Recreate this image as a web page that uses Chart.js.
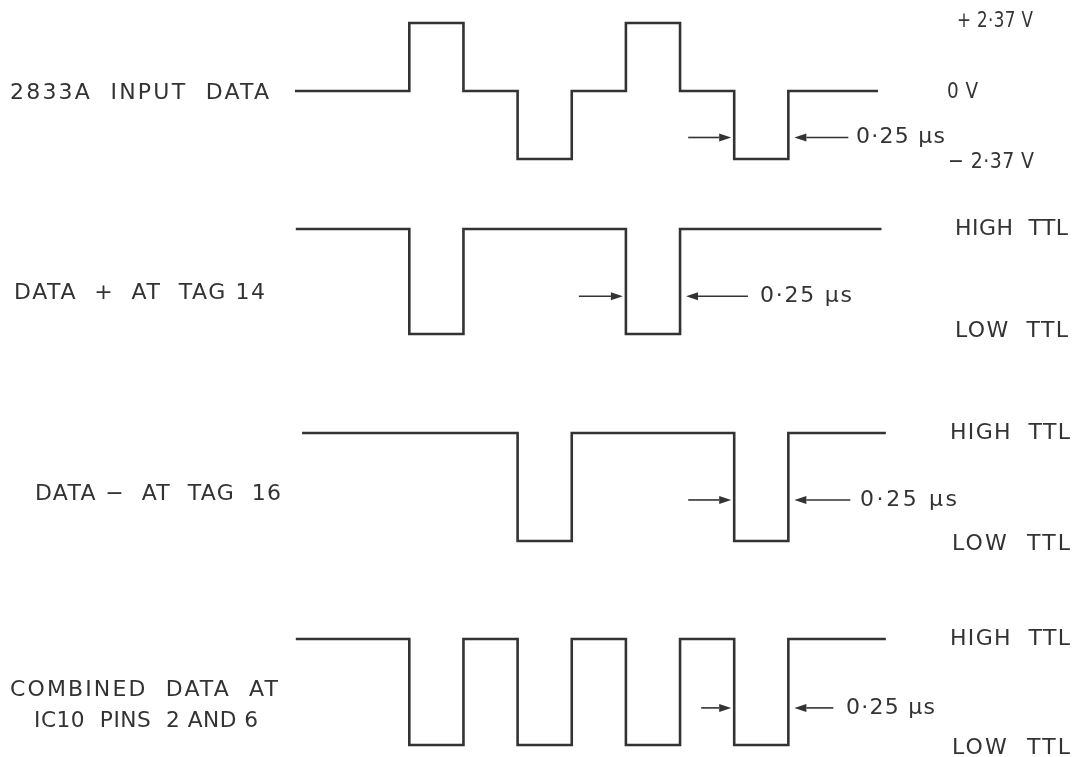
<!DOCTYPE html>
<html>
<head>
<meta charset="utf-8">
<script src="https://cdn.jsdelivr.net/npm/chart.js@4.4.1/dist/chart.umd.min.js"></script>
<style>
  html, body { margin: 0; padding: 0; background: #fff; }
  canvas { display: block; }
</style>
</head>
<body>
<canvas id="timingChart" width="1075" height="757"></canvas>
<script>
// edges every 0.25 us, levels hold from each edge to the next
var edgeTimes = [0, 0.25, 0.5, 0.75, 1.0, 1.25, 1.5, 1.75];

var inputLevels = [0, 2.37, 0, -2.37, 0, 2.37, 0, -2.37, 0];   // volts
var tag14Levels = [1, 0, 1, 1, 1, 0, 1, 1, 1];                 // 1 = HIGH TTL
var tag16Levels = [1, 1, 1, 0, 1, 1, 1, 0, 1];
var combinedLevels = [1, 0, 1, 0, 1, 0, 1, 0, 1];

var traceStarts = [-0.528, -0.524, -0.495, -0.524];
var traceEnds = [2.164, 2.18, 2.2, 2.2];

var traceNames = [["2833A  INPUT  DATA"], ["DATA  +  AT  TAG 14"], ["DATA −  AT  TAG  16"],
                  ["COMBINED  DATA  AT", "IC10  PINS  2 AND 6"]];
var levelLabels = [
  [[2.37, "+ 2·37 V"], [0, "0 V"], [-2.37, "− 2·37 V"]],
  [[1, "HIGH  TTL"], [0, "LOW  TTL"]],
  [[1, "HIGH  TTL"], [0, "LOW  TTL"]],
  [[1, "HIGH  TTL"], [0, "LOW  TTL"]]
];
var pulseLabel = "0·25 µs";
var pulseEdges = [[1.5, 1.75], [1.0, 1.25], [1.5, 1.75], [1.5, 1.75]];
var pulseLevels = [-1.62, 0.36, 0.38, 0.35];

var canvasW = 1075, canvasH = 757;
var ink = "#333333";
var font = "22px 'DejaVu Sans'";

// where the time axis sits on the page
var originPx = 409.3, pxPerUs = 216.6;

// pixel rows of [top level, bottom level] for each trace
var bandRows = [[23, 159], [229, 334], [433, 541], [639, 745]];
var bandValues = [[2.37, -2.37], [1, 0], [1, 0], [1, 0]];

var nameLayout = [
  [[10, 269, 93]],
  [[14, 265, 293]],
  [[35, 281, 494]],
  [[10, 278, 690], [34, 258, 721]]
];
var levelLayout = [
  [[957, 1033, -2], [947, 978, 1], [948, 1034, 3]],
  [[955, 1068, 0], [955, 1068, -3]],
  [[950, 1070, 0], [952, 1070, 3]],
  [[950, 1070, 0], [952, 1070, 3]]
];
// [tail length right arrow, tail length left arrow, text left, text right]
var arrowLayout = [[43, 54, 856, 945], [44, 62, 760, 852], [43, 56, 860, 957], [30, 39, 846, 935]];

function buildPoints(levels, start, end) {
  var pts = [{x: start, y: levels[0]}];
  for (var i = 0; i < edgeTimes.length; i++) {
    pts.push({x: edgeTimes[i], y: levels[i + 1]});
  }
  pts.push({x: end, y: levels[levels.length - 1]});
  return pts;
}

function bandAxis(i) {
  var hiVal = bandValues[i][0], loVal = bandValues[i][1];
  var hiPx = bandRows[i][0], loPx = bandRows[i][1];
  var k = (loPx - hiPx) / (hiVal - loVal);
  return {
    type: 'linear',
    display: false,
    min: loVal - (canvasH - loPx) / k,
    max: hiVal + hiPx / k
  };
}

// spread (or squeeze) a label so it spans left..right
function fitText(ctx, text, left, right, y) {
  ctx.letterSpacing = "0px";
  var w = ctx.measureText(text).width;
  var n = Math.max(text.length - 1, 1);
  var gap = (right - left - w) / n;
  ctx.save();
  if (gap < 0.5) {
    gap = 0.5;
    var sx = (right - left) / (w + gap * n);
    ctx.translate(left, y);
    ctx.scale(sx, 1);
    ctx.letterSpacing = gap.toFixed(2) + "px";
    ctx.fillText(text, 0, 0);
  } else {
    ctx.letterSpacing = gap.toFixed(2) + "px";
    ctx.fillText(text, left, y);
  }
  ctx.restore();
}

function drawArrow(ctx, tailX, tipX, y) {
  var dir = tipX > tailX ? 1 : -1;
  var head = 12;
  ctx.beginPath();
  ctx.moveTo(tailX, y);
  ctx.lineTo(tipX - dir * head, y);
  ctx.stroke();
  ctx.beginPath();
  ctx.moveTo(tipX, y);
  ctx.lineTo(tipX - dir * head, y - 4);
  ctx.lineTo(tipX - dir * head, y + 4);
  ctx.closePath();
  ctx.fill();
}

var diagramText = {
  id: 'diagramText',
  afterDatasetsDraw: function(chart) {
    var ctx = chart.ctx;
    var xs = chart.scales.x;
    ctx.save();
    ctx.fillStyle = ink;
    ctx.strokeStyle = ink;
    ctx.lineWidth = 1.6;
    ctx.font = font;
    ctx.textBaseline = 'middle';
    ctx.textAlign = 'left';

    for (var i = 0; i < 4; i++) {
      var ys = chart.scales['y' + i];

      traceNames[i].forEach(function(name, j) {
        var l = nameLayout[i][j];
        fitText(ctx, name, l[0], l[1], l[2]);
      });

      levelLabels[i].forEach(function(lab, j) {
        var l = levelLayout[i][j];
        fitText(ctx, lab[1], l[0], l[1], ys.getPixelForValue(lab[0]) + l[2]);
      });

      var ay = ys.getPixelForValue(pulseLevels[i]);
      var leftEdge = xs.getPixelForValue(pulseEdges[i][0]);
      var rightEdge = xs.getPixelForValue(pulseEdges[i][1]);
      var a = arrowLayout[i];
      drawArrow(ctx, leftEdge - 3 - a[0], leftEdge - 3, ay);
      drawArrow(ctx, rightEdge + 6 + a[1], rightEdge + 6, ay);
      fitText(ctx, pulseLabel, a[2], a[3], ay);
    }
    ctx.restore();
  }
};

var allLevels = [inputLevels, tag14Levels, tag16Levels, combinedLevels];
var datasets = [];
var scales = {
  x: {
    type: 'linear',
    display: false,
    min: -originPx / pxPerUs,
    max: (canvasW - originPx) / pxPerUs
  }
};

allLevels.forEach(function(levels, i) {
  datasets.push({
    data: buildPoints(levels, traceStarts[i], traceEnds[i]),
    yAxisID: 'y' + i,
    stepped: 'before',
    borderColor: ink,
    borderWidth: 2.6,
    borderJoinStyle: 'miter',
    borderCapStyle: 'butt',
    pointRadius: 0,
    fill: false,
    clip: false
  });
  scales['y' + i] = bandAxis(i);
});

var ctx = document.getElementById("timingChart");
var timingChart = new Chart(ctx, {
  type: 'line',
  data: { datasets: datasets },
  options: {
    responsive: false,
    animation: false,
    layout: { padding: 0 },
    plugins: {
      legend: { display: false },
      tooltip: { enabled: false }
    },
    scales: scales
  },
  plugins: [diagramText]
});
</script>
</body>
</html>
